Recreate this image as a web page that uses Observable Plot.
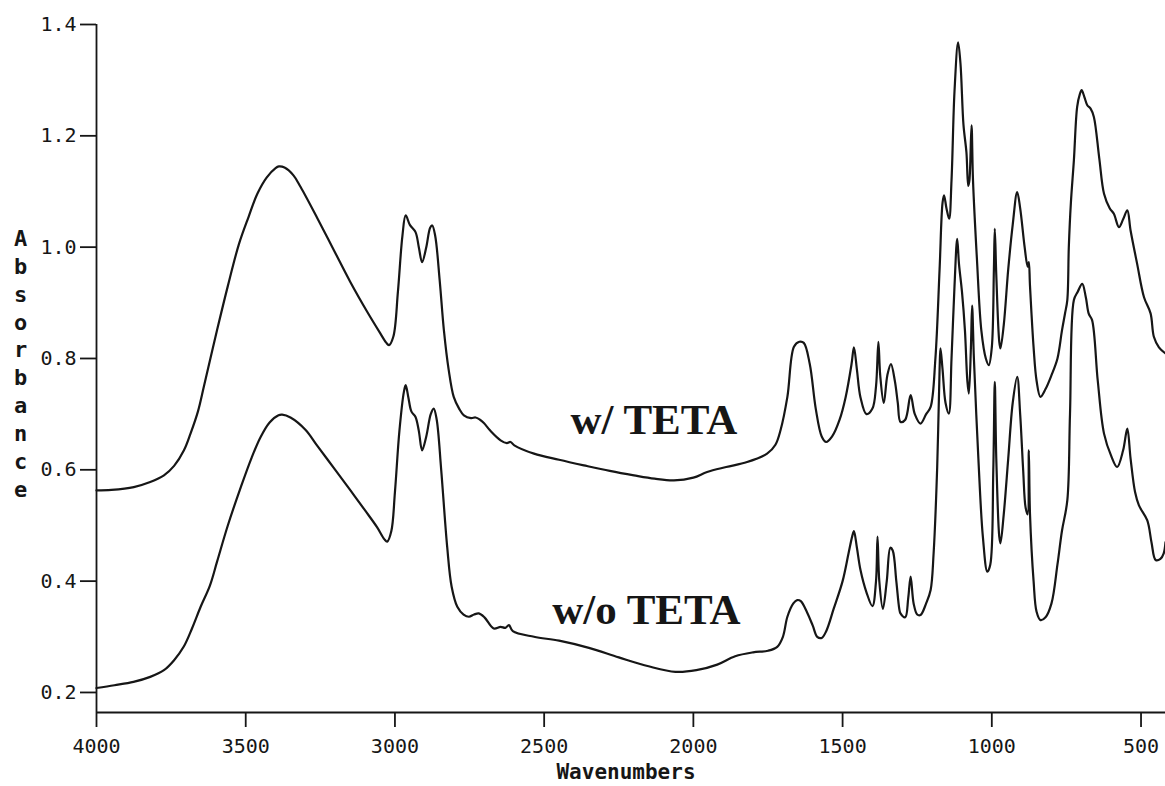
<!DOCTYPE html>
<html>
<head>
<meta charset="utf-8">
<script src="https://cdn.jsdelivr.net/npm/d3@7"></script>
<script src="https://cdn.jsdelivr.net/npm/@observablehq/plot@0.6"></script>
<style>
  html, body { margin: 0; padding: 0; background: #fff; }
  #chart svg { display: block; }
</style>
</head>
<body>
<div id="chart"></div>
<script>
// ---- Data (wavenumber cm^-1, absorbance) ----
const withTeta = [
  [4000,0.563],[3950,0.564],[3875,0.569],[3820,0.578],[3774,0.590],[3740,0.607],[3707,0.635],[3685,0.665],
  [3660,0.705],[3640,0.750],[3596,0.851],[3560,0.930],[3523,1.005],[3490,1.055],[3461,1.096],[3430,1.125],
  [3400,1.142],[3389,1.145],[3370,1.143],[3340,1.129],[3316,1.108],[3260,1.052],[3205,0.995],[3150,0.938],
  [3093,0.884],[3050,0.846],[3030,0.829],[3020,0.824],[3005,0.840],[2990,0.920],[2975,1.020],[2964,1.057],
  [2950,1.040],[2931,1.027],[2920,1.000],[2909,0.973],[2895,1.000],[2882,1.035],[2875,1.039],[2865,1.020],
  [2850,0.940],[2836,0.851],[2820,0.780],[2803,0.731],[2785,0.710],[2769,0.698],[2745,0.693],[2730,0.694],
  [2715,0.690],[2702,0.684],[2680,0.670],[2646,0.653],[2625,0.648],[2613,0.650],[2600,0.644],[2534,0.629],
  [2450,0.618],[2367,0.608],[2280,0.598],[2199,0.590],[2130,0.584],[2065,0.581],[2000,0.586],[1954,0.596],
  [1890,0.605],[1820,0.614],[1753,0.629],[1725,0.645],[1708,0.671],[1685,0.731],[1663,0.821],[1645,0.830],
  [1630,0.828],[1610,0.790],[1590,0.710],[1570,0.660],[1555,0.650],[1535,0.660],[1510,0.690],[1490,0.730],
  [1470,0.790],[1462,0.820],[1452,0.780],[1440,0.730],[1420,0.700],[1400,0.710],[1388,0.750],[1380,0.830],
  [1374,0.770],[1362,0.720],[1350,0.770],[1338,0.790],[1325,0.760],[1315,0.720],[1306,0.686],[1290,0.690],
  [1272,0.734],[1258,0.700],[1239,0.683],[1220,0.700],[1205,0.713],[1189,0.800],[1175,0.960],[1165,1.080],
  [1160,1.093],[1152,1.070],[1143,1.051],[1135,1.120],[1125,1.280],[1113,1.368],[1105,1.330],[1095,1.220],
  [1085,1.170],[1079,1.110],[1075,1.120],[1068,1.219],[1063,1.120],[1050,0.980],[1035,0.850],[1020,0.800],
  [1010,0.788],[1000,0.820],[993,0.960],[990,1.033],[985,0.950],[975,0.830],[971,0.818],[960,0.860],
  [945,0.960],[930,1.040],[915,1.099],[905,1.070],[890,1.000],[880,0.965],[876,0.973],[872,0.930],
  [860,0.820],[850,0.760],[837,0.731],[820,0.745],[800,0.770],[780,0.800],[765,0.850],[755,0.880],
  [747,0.905],[742,1.000],[735,1.080],[725,1.156],[714,1.252],[705,1.275],[699,1.282],[690,1.270],
  [680,1.255],[669,1.249],[658,1.234],[640,1.160],[624,1.096],[605,1.070],[591,1.060],[574,1.036],
  [560,1.050],[546,1.066],[535,1.030],[513,0.970],[490,0.910],[468,0.881],[457,0.839],[440,0.820],[418,0.809]
];

const withoutTeta = [
  [4000,0.208],[3940,0.213],[3876,0.219],[3820,0.228],[3774,0.240],[3740,0.258],[3708,0.282],[3680,0.315],
  [3651,0.354],[3620,0.392],[3596,0.435],[3560,0.500],[3517,0.568],[3480,0.622],[3450,0.659],[3420,0.685],
  [3390,0.698],[3378,0.699],[3350,0.694],[3300,0.672],[3260,0.643],[3200,0.600],[3149,0.563],[3100,0.527],
  [3060,0.497],[3035,0.475],[3026,0.471],[3012,0.490],[3000,0.560],[2985,0.670],[2970,0.740],[2964,0.752],
  [2955,0.730],[2945,0.705],[2931,0.695],[2920,0.670],[2909,0.635],[2895,0.660],[2880,0.700],[2870,0.710],
  [2860,0.690],[2845,0.600],[2825,0.462],[2810,0.390],[2791,0.354],[2770,0.340],[2752,0.336],[2735,0.340],
  [2719,0.342],[2700,0.335],[2669,0.315],[2646,0.318],[2630,0.316],[2618,0.321],[2605,0.310],[2534,0.300],
  [2450,0.293],[2350,0.280],[2250,0.263],[2150,0.247],[2060,0.237],[1990,0.240],[1920,0.250],[1860,0.265],
  [1800,0.272],[1750,0.275],[1719,0.282],[1700,0.300],[1685,0.336],[1665,0.360],[1652,0.366],[1640,0.364],
  [1620,0.345],[1600,0.320],[1585,0.300],[1570,0.298],[1555,0.310],[1530,0.350],[1500,0.400],[1480,0.450],
  [1468,0.480],[1462,0.490],[1452,0.460],[1440,0.420],[1420,0.380],[1400,0.355],[1388,0.400],[1383,0.480],
  [1377,0.400],[1365,0.350],[1352,0.400],[1340,0.460],[1332,0.455],[1320,0.400],[1310,0.350],[1306,0.342],
  [1290,0.335],[1280,0.370],[1272,0.408],[1262,0.360],[1250,0.340],[1239,0.339],[1220,0.360],[1205,0.384],
  [1195,0.450],[1183,0.605],[1175,0.780],[1172,0.818],[1165,0.780],[1155,0.720],[1144,0.701],[1135,0.800],
  [1125,0.930],[1116,1.015],[1110,0.970],[1100,0.920],[1090,0.850],[1082,0.760],[1077,0.737],[1070,0.820],
  [1066,0.895],[1060,0.800],[1045,0.620],[1030,0.480],[1015,0.417],[1005,0.430],[995,0.600],[990,0.758],
  [985,0.620],[975,0.480],[971,0.468],[960,0.520],[945,0.620],[930,0.720],[915,0.767],[905,0.700],
  [895,0.600],[887,0.533],[880,0.520],[876,0.635],[872,0.520],[860,0.400],[850,0.345],[837,0.330],
  [820,0.335],[800,0.360],[780,0.430],[765,0.490],[747,0.545],[738,0.700],[725,0.905],[712,0.920],
  [697,0.934],[685,0.910],[675,0.880],[664,0.869],[645,0.760],[624,0.665],[600,0.625],[580,0.605],
  [560,0.635],[546,0.674],[535,0.620],[520,0.560],[507,0.536],[479,0.509],[465,0.470],[451,0.438],
  [435,0.440],[424,0.450],[418,0.470]
];

const seriesNames = ["w/ TETA", "w/o TETA"];
// label anchor (wavenumber, absorbance) for each series name
const labelWn = [2412, 2473];
const labelAbs = [0.689, 0.348];

const xTicks = [4000, 3500, 3000, 2500, 2000, 1500, 1000, 500];
const yTicks = [0.2, 0.4, 0.6, 0.8, 1.0, 1.2, 1.4];
const xDomain = [4000, 418];
const yDomain = [0.164, 1.4];
const xLabel = "Wavenumbers";
const yLabel = "Absorbance";

// ---- Build tables ----
const rows = [
  ...withTeta.map(([wn, a]) => ({wn, a, s: seriesNames[0]})),
  ...withoutTeta.map(([wn, a]) => ({wn, a, s: seriesNames[1]}))
];
const labels = seriesNames.map((name, i) => ({name, wn: labelWn[i], a: labelAbs[i]}));

const ink = "#161616";

const chart = Plot.plot({
  width: 1165,
  height: 786,
  marginLeft: 96,
  marginRight: 0,
  marginTop: 24,
  marginBottom: 74,
  style: {background: "#fff", color: ink, fontFamily: "'DejaVu Sans Mono', monospace", fontSize: "20px", overflow: "visible"},
  x: {domain: xDomain, label: null},
  y: {domain: yDomain, label: null},
  marks: [
    Plot.axisY({ticks: yTicks, tickSize: 16, tickPadding: 4, tickFormat: d3.format(".1f"), strokeWidth: 1.8, fontSize: 20, label: null}),
    Plot.axisX({ticks: xTicks, tickSize: 15, tickPadding: 11, tickFormat: d => String(d), strokeWidth: 1.8, fontSize: 20, label: null}),
    Plot.ruleX([xDomain[0]], {y1: yDomain[0], y2: yDomain[1], stroke: ink, strokeWidth: 1.8}),
    Plot.ruleY([yDomain[0]], {stroke: ink, strokeWidth: 1.8}),
    Plot.line(rows, {x: "wn", y: "a", z: "s", stroke: ink, strokeWidth: 2.2, curve: "catmull-rom", strokeLinejoin: "round"}),
    Plot.text(labels, {x: "wn", y: "a", text: "name", textAnchor: "start", lineAnchor: "middle",
      fontFamily: "'Liberation Serif', 'Times New Roman', serif", fontWeight: "bold", fontSize: 43, fill: ink}),
    Plot.text([xLabel], {frameAnchor: "bottom", dy: 60, dx: -5, lineAnchor: "middle", fontSize: 21, fontWeight: "bold", fill: ink}),
    Plot.text([yLabel.split("").join("\n")], {frameAnchor: "left", dx: -76, dy: -6, textAnchor: "middle", lineAnchor: "middle",
      lineHeight: 1.27, fontSize: 22, fontWeight: "bold", fill: ink})
  ]
});
document.getElementById("chart").append(chart);
</script>
</body>
</html>
